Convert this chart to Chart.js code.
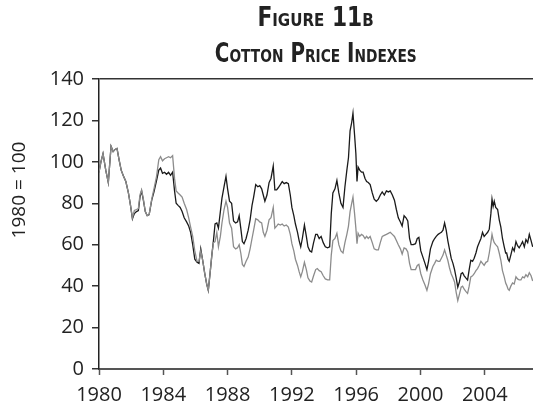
<!DOCTYPE html>
<html>
<head>
<meta charset="utf-8">
<script src="https://cdn.jsdelivr.net/npm/chart.js@4"></script>
<style>
  html, body { margin: 0; padding: 0; background: #fff; }
  #wrap { position: relative; width: 533px; height: 409px; }
  .ttl {
    position: absolute; left: 99px; width: 434px; text-align: center;
    font-family: "Liberation Sans Narrow", "DejaVu Sans Condensed", "Liberation Sans", sans-serif;
    font-weight: bold; font-variant: small-caps; font-size: 26px; line-height: 26px; color: #222;
  }
  .ttl span { display: inline-block; }
</style>
</head>
<body>
<div id="wrap">
  <div class="ttl" style="top:4px"><span style="transform:scaleX(0.93)">Figure 11b</span></div>
  <div class="ttl" style="top:40px"><span style="transform:scaleX(0.85)">Cotton Price Indexes</span></div>
  <canvas id="chart" width="533" height="409"></canvas>
</div>
<script>
// Time axis (decimal years) and the two index series, 1980 = 100
const years = [
  1980.00, 1980.12, 1980.25, 1980.42, 1980.58, 1980.75, 1980.88, 1981.00, 1981.12, 1981.25,
  1981.38, 1981.50, 1981.67, 1981.83, 1981.96, 1982.08, 1982.20, 1982.33, 1982.45, 1982.55,
  1982.65, 1982.76, 1982.88, 1983.00, 1983.12, 1983.28, 1983.42, 1983.58, 1983.72, 1983.83,
  1983.95, 1984.08, 1984.20, 1984.33, 1984.45, 1984.58, 1984.70, 1984.80, 1984.92, 1985.05,
  1985.17, 1985.30, 1985.45, 1985.58, 1985.70, 1985.83, 1985.96, 1986.10, 1986.22, 1986.33,
  1986.45, 1986.58, 1986.70, 1986.80, 1986.92, 1987.02, 1987.12, 1987.22, 1987.33, 1987.43,
  1987.55, 1987.65, 1987.78, 1987.90, 1988.00, 1988.12, 1988.25, 1988.37, 1988.50, 1988.62,
  1988.72, 1988.82, 1988.92, 1989.02, 1989.15, 1989.28, 1989.40, 1989.52, 1989.62, 1989.75,
  1989.88, 1990.00, 1990.12, 1990.22, 1990.32, 1990.45, 1990.58, 1990.70, 1990.84, 1990.94,
  1991.05, 1991.15, 1991.28, 1991.40, 1991.52, 1991.65, 1991.78, 1991.90, 1992.00, 1992.12,
  1992.22, 1992.35, 1992.45, 1992.55, 1992.65, 1992.78, 1992.90, 1993.00, 1993.12, 1993.23,
  1993.35, 1993.48, 1993.58, 1993.70, 1993.82, 1993.95, 1994.08, 1994.22, 1994.35, 1994.45,
  1994.55, 1994.68, 1994.80, 1994.92, 1995.05, 1995.18, 1995.30, 1995.42, 1995.52, 1995.62,
  1995.72, 1995.80, 1995.90, 1995.98, 1996.05, 1996.12, 1996.22, 1996.33, 1996.43, 1996.55,
  1996.65, 1996.75, 1996.87, 1997.00, 1997.12, 1997.25, 1997.38, 1997.50, 1997.62, 1997.75,
  1997.88, 1998.00, 1998.12, 1998.25, 1998.38, 1998.50, 1998.62, 1998.75, 1998.86, 1998.98,
  1999.10, 1999.21, 1999.32, 1999.42, 1999.55, 1999.69, 1999.80, 1999.90, 2000.02, 2000.15,
  2000.28, 2000.40, 2000.50, 2000.62, 2000.77, 2000.88, 2000.98, 2001.10, 2001.20, 2001.30,
  2001.40, 2001.50, 2001.60, 2001.70, 2001.80, 2001.91, 2002.02, 2002.12, 2002.22, 2002.32,
  2002.42, 2002.53, 2002.62, 2002.72, 2002.82, 2002.93, 2003.03, 2003.13, 2003.24, 2003.34,
  2003.45, 2003.55, 2003.65, 2003.76, 2003.86, 2003.96, 2004.07, 2004.18, 2004.28, 2004.38,
  2004.45, 2004.52, 2004.59, 2004.68, 2004.80, 2004.90, 2005.00, 2005.10, 2005.21, 2005.30,
  2005.36, 2005.45, 2005.52, 2005.62, 2005.73, 2005.83, 2005.94, 2006.04, 2006.14, 2006.25,
  2006.35, 2006.46, 2006.56, 2006.67, 2006.77, 2006.88, 2006.98
];

const blackSeries = [
  95, 100, 104, 96, 90, 107.5, 105, 106, 106.5, 101,
  96, 93.5, 90.5, 85, 79, 72.5, 75, 76, 76.5, 83,
  86, 81.5, 76, 74, 74.5, 81.5, 85.5, 91, 96, 97,
  94.5, 95, 94, 95, 93.5, 95, 86, 80, 79, 78,
  76, 73, 71, 69, 66, 60, 53, 51.5, 51, 58,
  52.5, 46, 41, 38, 47, 55, 62, 70, 70.5, 68,
  76, 82.5, 88, 93, 87, 81, 80, 71.5, 70.5, 71,
  74, 68, 61.5, 60.5, 63, 67, 72, 79, 83, 89,
  88, 88.5, 87, 84, 81, 84, 90, 92, 98, 86.5,
  86.5, 87.5, 89, 90.5, 89.5, 90, 89.5, 84, 78, 74,
  70, 66, 62, 59, 63, 69.5, 64, 59, 57, 56.5,
  61, 65, 65, 63, 64, 61, 59, 58.5, 59, 75,
  85, 87, 91, 85, 80, 78, 88, 96, 102, 115,
  119, 123.5, 113, 104, 90.5, 97.5, 96, 95, 95, 92,
  90.5, 90, 89, 85, 82, 81, 82, 84, 85.5, 84,
  86, 85.5, 86, 84, 81.5, 77, 73, 71, 69, 74,
  73, 71.5, 63, 60, 60, 60.5, 63, 63.5, 57, 54,
  51, 48, 52, 58, 61.5, 63, 64, 65, 65.5, 66,
  67, 70.5, 67, 62, 58, 53.5, 51, 48, 44, 39.5,
  42, 46, 46.5, 45, 44, 43, 48, 52.5, 52, 53.5,
  56, 59, 61, 63, 66, 64, 65, 66, 67.5, 75,
  82, 78.5, 81, 78, 77, 72, 68.5, 63, 59, 56,
  56, 53, 52, 55, 58.5, 57, 61.5, 59.5, 58.5, 60,
  61.5, 59, 62.5, 61, 65, 62, 59
];

const greySeries = [
  95, 100, 104, 96, 90, 107.5, 105, 106, 106.5, 101,
  96, 93.5, 90.5, 85, 79, 73, 76.5, 77, 77.5, 84,
  86.5, 82, 76, 74, 74.5, 82, 87, 93, 101, 102.5,
  100.5, 101.5, 102, 102.5, 102, 103, 92, 86, 85, 84,
  83, 80, 77, 73, 68.5, 64, 57, 52, 52, 57,
  52.5, 46, 41, 38, 47, 55, 61, 61.5, 66, 59,
  64, 70.5, 77, 81, 78, 70.5, 68, 59, 58, 58.5,
  60, 56, 50.5, 49.5, 52, 54, 58, 63, 67, 72.5,
  72, 71, 70.5, 66, 64, 67, 72, 73, 78, 68,
  69, 70, 69.5, 70, 69, 69.5, 68.5, 65, 60.5, 57,
  53, 50, 47, 44.5, 47, 51.5, 48, 44, 42.5, 42,
  45, 48, 48.5, 47.5, 47, 45, 43.5, 43, 43, 55,
  62, 63, 65.5, 60, 57, 56, 61, 65, 69, 76,
  80, 83, 75, 68, 60.5, 65.5, 64, 65, 64.5, 63,
  64, 63, 64, 61, 58, 57.5, 57.5, 61, 64, 64.5,
  65, 65.5, 66, 65, 64, 62, 60, 58, 55.5, 58.5,
  58, 56.5, 51, 48, 48, 48, 50, 50.5, 46, 43,
  40.5, 38, 41, 46, 49.5, 51, 52.5, 52, 52, 53.5,
  55, 57.5, 55, 52.5, 49, 46, 44, 42, 37, 33,
  36, 39.5, 40, 38.5, 37.5, 36.5, 40, 44.5, 45, 46,
  47.5, 48.5, 50, 52, 51, 50, 51.5, 52, 56, 61,
  65, 62.5, 61, 60, 59, 56, 52.5, 47.5, 44.5, 41.5,
  40.5, 38.5, 38, 40, 41.5, 41, 44.5, 43.5, 43, 43,
  44.5, 44, 45.5, 44.5, 46.5, 45, 42.5
];

const yTicks = [0, 20, 40, 60, 80, 100, 120, 140];
const yAxisTitle = '1980 = 100';

const tickFont = { family: '"Open Sans", "DejaVu Sans", sans-serif', size: 20 };

// draws the rotated y axis caption a bit above the middle, like the original
const yTitlePlugin = {
  id: 'yTitle',
  afterDraw(chart) {
    const ctx = chart.ctx;
    ctx.save();
    ctx.translate(20, 190);
    ctx.rotate(-Math.PI / 2);
    ctx.font = '19px "Open Sans", "DejaVu Sans", sans-serif';
    ctx.fillStyle = '#222';
    ctx.textAlign = 'center';
    ctx.textBaseline = 'middle';
    ctx.fillText(yAxisTitle, 0, 0);
    ctx.restore();
  }
};

const toPoints = vals => vals.map((v, i) => ({ x: years[i], y: v }));

new Chart(document.getElementById('chart'), {
  type: 'line',
  data: {
    datasets: [
      {
        label: 'Grey index',
        data: toPoints(greySeries),
        borderColor: '#8c8c8c',
        borderWidth: 1.3,
        pointRadius: 0,
        tension: 0
      },
      {
        label: 'Black index',
        data: toPoints(blackSeries),
        borderColor: '#1a1a1a',
        borderWidth: 1.3,
        pointRadius: 0,
        tension: 0
      }
    ]
  },
  options: {
    responsive: false,
    animation: false,
    layout: { padding: { top: 79, right: 0, left: 0, bottom: 0 } },
    plugins: { legend: { display: false }, tooltip: { enabled: false } },
    scales: {
      x: {
        type: 'linear',
        min: 1980,
        max: 2007,
        afterFit(scale) { scale.height = 40; },
        border: { color: '#555', width: 2 },
        grid: { color: 'rgba(0,0,0,0)', tickColor: '#555', tickLength: 6, tickWidth: 1.5 },
        ticks: {
          stepSize: 4,
          includeBounds: false,
          color: '#222',
          font: tickFont,
          padding: 8,
          maxRotation: 0,
          callback: v => String(v)
        }
      },
      y: {
        min: 0,
        max: 140,
        afterFit(scale) { scale.width = 99; },
        afterBuildTicks(scale) { scale.ticks = yTicks.map(v => ({ value: v })); },
        border: { color: '#222', width: 1.5 },
        grid: {
          color: ctx => ctx.tick && ctx.tick.value === 140 ? '#333' : 'rgba(0,0,0,0)',
          lineWidth: 1.5,
          tickColor: '#333',
          tickLength: 7,
          tickWidth: 1.5
        },
        ticks: { color: '#222', font: tickFont, padding: 8 }
      }
    }
  },
  plugins: [yTitlePlugin]
});
</script>
</body>
</html>
